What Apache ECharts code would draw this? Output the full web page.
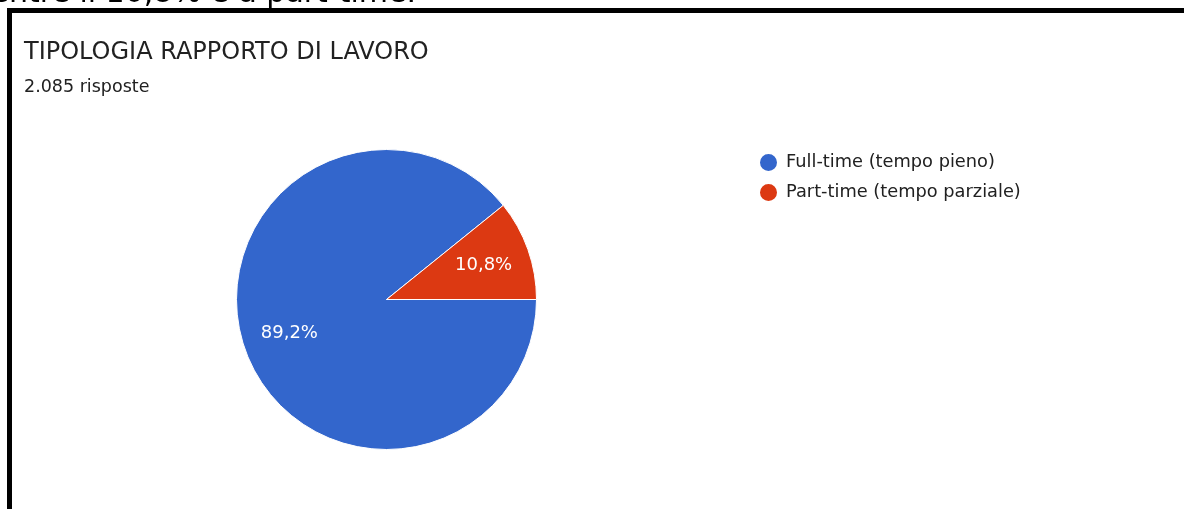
<!DOCTYPE html>
<html>
<head>
<meta charset="utf-8">
<title>Tipologia rapporto di lavoro</title>
<script src="https://cdn.jsdelivr.net/npm/echarts@6/dist/echarts.min.js"></script>
<style>
  html, body { margin: 0; padding: 0; background: #ffffff; }
  #chart { width: 1184px; height: 509px; }
</style>
</head>
<body>
<div id="chart"></div>
<script>
// Contract types and their share of the 2.085 answers (percent)
const categories = ['Full-time (tempo pieno)', 'Part-time (tempo parziale)'];
const shares = [89.2, 10.8];
const sliceColors = ['#3366CC', '#DC3912'];

const chartTitle = 'TIPOLOGIA RAPPORTO DI LAVORO';
const chartSubtitle = '2.085 risposte';
const headerLine = 'mentre il 10,8% è a part-time.';

const FONT = '"DejaVu Sans", sans-serif';

const pieData = categories.map((name, i) => ({
  name: name,
  value: shares[i],
  itemStyle: { color: sliceColors[i] }
}));

// Percentages written the Italian way, with a decimal comma
const pct = p => p.value.toFixed(1).replace('.', ',') + '%';

const chart = echarts.init(document.getElementById('chart'), null, { renderer: 'canvas' });

chart.setOption({
  animation: false,
  backgroundColor: '#ffffff',
  title: [
    {
      text: chartTitle,
      left: 24,
      top: 41,
      padding: 0,
      textStyle: { fontFamily: FONT, fontSize: 24, fontWeight: 'normal', color: '#212121', lineHeight: 24 }
    },
    {
      text: chartSubtitle,
      left: 24,
      top: 78,
      padding: 0,
      textStyle: { fontFamily: FONT, fontSize: 17.5, fontWeight: 'normal', color: '#212121', lineHeight: 18 }
    }
  ],
  legend: {
    data: categories,
    orient: 'vertical',
    left: 758,
    top: 152,
    padding: 0,
    itemWidth: 25,
    itemHeight: 19,
    itemGap: 9,
    icon: 'circle',
    selectedMode: false,
    textStyle: { fontFamily: FONT, fontSize: 17.8, color: '#212121', lineHeight: 19 }
  },
  graphic: [
    // caption line of the surrounding text, cut by the top of the frame
    {
      type: 'text',
      x: 416,
      y: -6,
      silent: true,
      style: {
        text: headerLine,
        align: 'right',
        verticalAlign: 'middle',
        fontFamily: FONT,
        fontSize: 30,
        fill: '#000000'
      },
      z: 0
    },
    // black frame, top and left sides
    {
      type: 'rect',
      silent: true,
      shape: { x: 7, y: 8, width: 1190, height: 5 },
      style: { fill: '#000000' },
      z: 10
    },
    {
      type: 'rect',
      silent: true,
      shape: { x: 7, y: 8, width: 5, height: 520 },
      style: { fill: '#000000' },
      z: 10
    }
  ],
  series: [
    {
      name: 'Tipologia',
      type: 'pie',
      center: [386.5, 299.5],
      radius: [0, 150],
      startAngle: 0,
      clockwise: true,
      silent: true,
      data: pieData,
      itemStyle: { borderColor: '#ffffff', borderWidth: 1 },
      label: { show: false },
      labelLine: { show: false },
      emphasis: { disabled: true }
    },
    {
      // transparent ring that carries the slice labels at two thirds of the radius
      name: 'Etichette',
      type: 'pie',
      center: [386.5, 299.5],
      radius: [50, 150],
      startAngle: 0,
      clockwise: true,
      silent: true,
      data: pieData.map(d => ({ name: d.name, value: d.value })),
      itemStyle: { color: 'rgba(0,0,0,0)', borderWidth: 0 },
      label: {
        show: true,
        position: 'inside',
        formatter: pct,
        fontFamily: FONT,
        fontSize: 18,
        color: '#ffffff'
      },
      labelLine: { show: false },
      emphasis: { disabled: true },
      z: 3
    }
  ]
});
</script>
</body>
</html>
